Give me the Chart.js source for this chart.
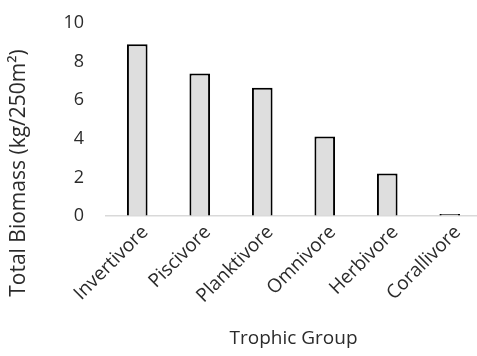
<!DOCTYPE html>
<html>
<head>
<meta charset="utf-8">
<script src="https://cdn.jsdelivr.net/npm/chart.js@4"></script>
<style>
  html, body { margin: 0; padding: 0; overflow: hidden; background: #fff; }
  #wrap { width: 481px; height: 356px; }
</style>
</head>
<body>
<div id="wrap"><canvas id="chart" width="481" height="356"></canvas></div>
<script>
// Trophic groups and their total biomass (kg per 250 m²)
const trophicGroups = ['Invertivore', 'Piscivore', 'Planktivore', 'Omnivore', 'Herbivore', 'Corallivore'];
const totalBiomass = [8.9, 7.38, 6.64, 4.12, 2.2, 0.1];
const yTicks = [0, 2, 4, 6, 8, 10];
const yTitle = 'Total Biomass (kg/250m²)';

const FONT = "'Open Sans', 'Noto Sans', sans-serif";
const TEXT = '#2b2b2b';

// Vertical axis title, set at the side of the chart rather than on the plot centre
const sideTitle = {
  id: 'sideTitle',
  afterDraw(chart) {
    const ctx = chart.ctx;
    ctx.save();
    ctx.translate(19, 173);
    ctx.rotate(-Math.PI / 2);
    ctx.font = `21px ${FONT}`;
    ctx.fillStyle = TEXT;
    ctx.textAlign = 'center';
    ctx.textBaseline = 'middle';
    ctx.fillText(yTitle, 0, 0);
    ctx.restore();
  }
};

new Chart(document.getElementById('chart'), {
  type: 'bar',
  data: {
    labels: trophicGroups,
    datasets: [{
      data: totalBiomass,
      backgroundColor: '#dedede',
      borderColor: '#000000',
      borderWidth: 2,
      borderSkipped: 'bottom',
      barPercentage: 0.33,
      categoryPercentage: 1.0
    }]
  },
  plugins: [sideTitle],
  options: {
    responsive: false,
    animation: false,
    devicePixelRatio: 1,
    layout: { padding: { top: 23, right: 0, bottom: 0, left: 0 } },
    plugins: { legend: { display: false }, tooltip: { enabled: false } },
    scales: {
      x: {
        offset: true,
        grid: { display: false, drawTicks: false },
        border: { display: true, color: '#d9d9d9', width: 1.5 },
        ticks: {
          color: TEXT,
          font: { family: FONT, size: 19 },
          minRotation: 45,
          maxRotation: 45,
          padding: 5,
          labelOffset: 8
        },
        title: {
          display: true,
          text: 'Trophic Group',
          color: TEXT,
          font: { family: FONT, size: 19 },
          padding: { top: 0, bottom: 6 }
        },
        afterFit: (scale) => { scale.height = 140; }
      },
      y: {
        min: 0,
        max: 10,
        afterBuildTicks: (scale) => { scale.ticks = yTicks.map(v => ({ value: v })); },
        grid: {
          display: true,
          drawOnChartArea: false,
          drawTicks: true,
          tickLength: 18,
          color: 'rgba(0,0,0,0)'
        },
        border: { display: false },
        ticks: {
          color: TEXT,
          font: { family: FONT, size: 18 },
          padding: 4
        },
        afterFit: (scale) => { scale.width = 106; }
      }
    }
  }
});
</script>
</body>
</html>
